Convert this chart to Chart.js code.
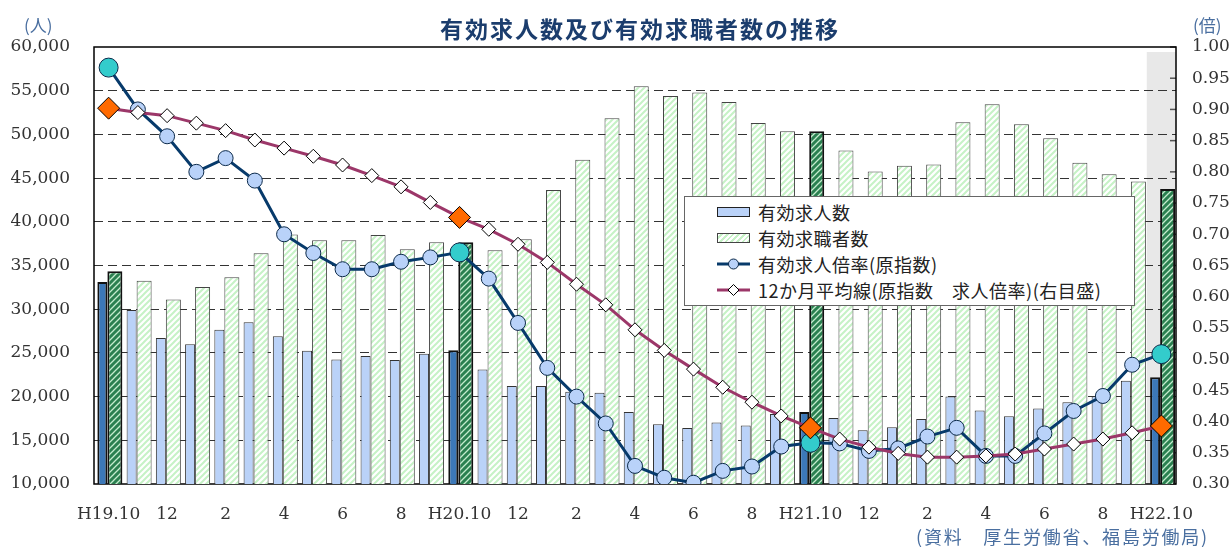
<!DOCTYPE html>
<html lang="ja">
<head>
<meta charset="utf-8">
<title>有効求人数及び有効求職者数の推移</title>
<script src="https://cdn.jsdelivr.net/npm/chart.js@4.4.1/dist/chart.umd.min.js"></script>
<style>
  body { margin: 0; background: #fff; }
  #wrap { position: relative; width: 1231px; height: 547px; font-family: "Noto Sans CJK JP", sans-serif; }
  #chart { position: absolute; left: 0; top: 0; }
  .txt { position: absolute; white-space: nowrap; }
  #title { left: 440px; top: 15px; font-size: 23px; line-height: 26px; font-weight: bold; color: #1b3d6d; letter-spacing: 2px; }
  #unitL { left: 24px; top: 12px; font-size: 17px; color: #4a6fa0; }
  #unitR { left: 1193px; top: 12px; font-size: 17px; color: #4a6fa0; }
  #source { left: 916px; top: 523px; font-size: 18px; color: #4a6fa0; letter-spacing: 1.8px; }
  #legend { position: absolute; left: 684px; top: 196px; width: 449px; height: 108px; background: #fff; border: 1px solid #666; }
  .row { position: absolute; left: 32px; height: 26px; display: flex; align-items: center; font-size: 18px; color: #222; letter-spacing: 0.5px; }
  .sw { width: 33px; height: 12px; margin-right: 8px; flex: none; }
  .box { box-sizing: border-box; height: 10px; border: 1px solid #222; }
</style>
</head>
<body>
<div id="wrap">
  <canvas id="chart" width="1231" height="547"></canvas>
  <div class="txt" id="title">有効求人数及び有効求職者数の推移</div>
  <div class="txt" id="unitL">(人)</div>
  <div class="txt" id="unitR">(倍)</div>
  <div class="txt" id="source">(資料　厚生労働省、福島労働局)</div>
  <div id="legend">
    <div class="row" style="top:2px"><div class="sw box" style="background:#bad2f8"></div>有効求人数</div>
    <div class="row" style="top:28px"><div class="sw box" style="background:repeating-linear-gradient(135deg,#fff 0 2px,#c6f2c6 2px 4px);border-color:#444"></div>有効求職者数</div>
    <div class="row" style="top:54px"><svg class="sw" viewBox="0 0 33 12"><line x1="0" y1="6" x2="33" y2="6" stroke="#073a6b" stroke-width="3"/><circle cx="16.5" cy="6" r="5" fill="#b9d2f9" stroke="#0c2a4a" stroke-width="1"/></svg>有効求人倍率(原指数)</div>
    <div class="row" style="top:80px"><svg class="sw" viewBox="0 0 33 12"><line x1="0" y1="6" x2="33" y2="6" stroke="#9c3769" stroke-width="3"/><polygon points="16.5,0.5 22,6 16.5,11.5 11,6" fill="#fff" stroke="#000" stroke-width="1"/></svg>12か月平均線(原指数　求人倍率)(右目盛)</div>
  </div>
</div>
<script>
const months = ['H19.10', '11', '12', '1', '2', '3', '4', '5', '6', '7', '8', '9',
  'H20.10', '11', '12', '1', '2', '3', '4', '5', '6', '7', '8', '9',
  'H21.10', '11', '12', '1', '2', '3', '4', '5', '6', '7', '8', '9', 'H22.10'];

// 有効求人数 (人)
const jobOffers = [33100, 29900, 26700, 26000, 27650, 28500, 26900, 25250, 24250, 24650, 24200, 24900,
  25300, 23100, 21200, 21200, 20550, 20450, 18250, 16850, 16400, 17050, 16700, 18000,
  18250, 17550, 16150, 16500, 17450, 20000, 18400, 17750, 18650, 19350, 20050, 21800, 22200];

// 有効求職者数 (人)
const jobSeekers = [34350, 33250, 31100, 32550, 33650, 36400, 38550, 37900, 37900, 38500, 36850, 37650,
  37650, 36750, 38000, 43650, 47100, 51850, 55500, 54400, 54800, 53700, 51300, 50350,
  50350, 48150, 45750, 46400, 46550, 51400, 53450, 51150, 49550, 46750, 45450, 44600, 43750];

// 有効求人倍率 (原指数, 倍)
const offerRatio = [0.967, 0.90, 0.857, 0.80, 0.822, 0.786, 0.70, 0.67, 0.644, 0.644, 0.656, 0.663,
  0.671, 0.629, 0.558, 0.486, 0.44, 0.397, 0.329, 0.31, 0.302, 0.321, 0.328, 0.36,
  0.366, 0.365, 0.353, 0.357, 0.376, 0.39, 0.345, 0.345, 0.381, 0.417, 0.441, 0.491, 0.508];

// 12か月平均線 (倍)
const ratioAvg12 = [0.902, 0.895, 0.89, 0.878, 0.866, 0.851, 0.838, 0.825, 0.811, 0.794, 0.776, 0.751,
  0.727, 0.708, 0.684, 0.655, 0.62, 0.587, 0.547, 0.514, 0.484, 0.455, 0.431, 0.409,
  0.39, 0.372, 0.359, 0.349, 0.343, 0.343, 0.345, 0.348, 0.356, 0.364, 0.372, 0.382, 0.393];

// October of each year is drawn in the darker colours
const octIndex = [0, 12, 24, 36];

const isOct = i => octIndex.includes(i);
const canvas = document.getElementById('chart');
const ctx = canvas.getContext('2d');

function hatch(bg, fg, lw) {
  const c = document.createElement('canvas');
  c.width = 6; c.height = 6;
  const g = c.getContext('2d');
  g.fillStyle = bg;
  g.fillRect(0, 0, 6, 6);
  g.strokeStyle = fg;
  g.lineWidth = lw;
  g.beginPath();
  g.moveTo(-1, 7); g.lineTo(7, -1);
  g.moveTo(-4, 4); g.lineTo(4, -4);
  g.moveTo(2, 10); g.lineTo(10, 2);
  g.stroke();
  return ctx.createPattern(c, 'repeat');
}

const lightHatch = hatch('#ffffff', '#c6f2c6', 2);
const darkHatch = hatch('#2a8050', '#c4ecce', 1.3);

// grey band behind the latest month, plot frame and inner ticks of right axis
const framePlugin = {
  id: 'frame',
  beforeDraw(chart) {
    const { ctx, chartArea, scales } = chart;
    const x = scales.x;
    const w = x.getPixelForValue(1) - x.getPixelForValue(0);
    const left = x.getPixelForValue(months.length - 1) - w / 2;
    ctx.save();
    ctx.fillStyle = '#e8e8e8';
    ctx.fillRect(left, chartArea.top + 5, chartArea.right - left, chartArea.bottom - chartArea.top - 5);
    ctx.restore();
  },
  beforeDatasetsDraw(chart) {
    const { ctx, chartArea, scales } = chart;
    ctx.save();
    ctx.strokeStyle = '#555';
    ctx.lineWidth = 1.5;
    scales.y1.ticks.forEach(t => {
      const y = scales.y1.getPixelForValue(t.value);
      ctx.beginPath();
      ctx.moveTo(chartArea.right - 6, y);
      ctx.lineTo(chartArea.right, y);
      ctx.stroke();
    });
    ctx.strokeStyle = '#000';
    ctx.lineWidth = 1.5;
    ctx.strokeRect(chartArea.left, chartArea.top, chartArea.right - chartArea.left, chartArea.bottom - chartArea.top);
    ctx.restore();
  }
};

const tickFont = { family: 'DejaVu Serif', size: 17 };

new Chart(ctx, {
  type: 'bar',
  data: {
    labels: months,
    datasets: [
      {
        type: 'line',
        label: '12か月平均線(原指数　求人倍率)(右目盛)',
        data: ratioAvg12,
        yAxisID: 'y1',
        order: 1,
        borderColor: '#9c3769',
        borderWidth: 3,
        pointStyle: 'rectRot',
        pointRadius: months.map((m, i) => isOct(i) ? 11 : 7),
        pointBackgroundColor: months.map((m, i) => isOct(i) ? '#ff6a00' : '#ffffff'),
        pointBorderColor: '#000',
        pointBorderWidth: 1,
        tension: 0
      },
      {
        type: 'line',
        label: '有効求人倍率(原指数)',
        data: offerRatio,
        yAxisID: 'y1',
        order: 2,
        borderColor: '#073a6b',
        borderWidth: 3,
        pointStyle: 'circle',
        pointRadius: months.map((m, i) => isOct(i) ? 9.5 : 7.5),
        pointBackgroundColor: months.map((m, i) => isOct(i) ? '#33cccc' : '#b9d2f9'),
        pointBorderColor: '#0c2a4a',
        pointBorderWidth: 1,
        tension: 0
      },
      {
        label: '有効求人数',
        data: jobOffers,
        yAxisID: 'y',
        order: 3,
        backgroundColor: months.map((m, i) => isOct(i) ? '#3c78b8' : '#bad2f8'),
        borderColor: months.map((m, i) => isOct(i) ? '#111' : '#333'),
        borderWidth: months.map((m, i) => isOct(i) ? 2 : 1),
        categoryPercentage: 0.855,
        barPercentage: 0.8
      },
      {
        label: '有効求職者数',
        data: jobSeekers,
        yAxisID: 'y',
        order: 4,
        backgroundColor: months.map((m, i) => isOct(i) ? darkHatch : lightHatch),
        borderColor: months.map((m, i) => isOct(i) ? '#111' : '#444'),
        borderWidth: months.map((m, i) => isOct(i) ? 2 : 1),
        categoryPercentage: 0.855,
        barPercentage: 1.2
      }
    ]
  },
  options: {
    responsive: false,
    animation: false,
    layout: { padding: { top: 47, left: 0, right: 0, bottom: 0 } },
    plugins: {
      legend: { display: false },
      tooltip: { enabled: false }
    },
    scales: {
      x: {
        grid: { display: false, drawTicks: false },
        border: { display: false },
        ticks: {
          font: tickFont,
          color: '#333',
          padding: 20,
          autoSkip: false,
          maxRotation: 0,
          minRotation: 0,
          callback: (v, i) => i % 2 === 0 ? months[i] : ''
        },
        afterFit: s => { s.height = 63; }
      },
      y: {
        position: 'left',
        min: 10000,
        max: 60000,
        ticks: {
          stepSize: 5000,
          font: tickFont,
          color: '#333',
          padding: 24,
          callback: v => v.toLocaleString('en-US')
        },
        grid: {
          drawTicks: false,
          lineWidth: 1,
          color: c => (c.tick.value === 10000 || c.tick.value === 60000) ? 'rgba(0,0,0,0)' : '#333'
        },
        border: { display: false, dash: [9, 5] },
        afterFit: s => { s.width = 94; }
      },
      y1: {
        position: 'right',
        min: 0.3,
        max: 1.0,
        ticks: {
          stepSize: 0.05,
          font: tickFont,
          color: '#333',
          padding: 16,
          callback: v => v.toFixed(2)
        },
        grid: { display: false, drawTicks: false },
        border: { display: false },
        afterFit: s => { s.width = 55; }
      }
    }
  },
  plugins: [framePlugin]
});
</script>
</body>
</html>
